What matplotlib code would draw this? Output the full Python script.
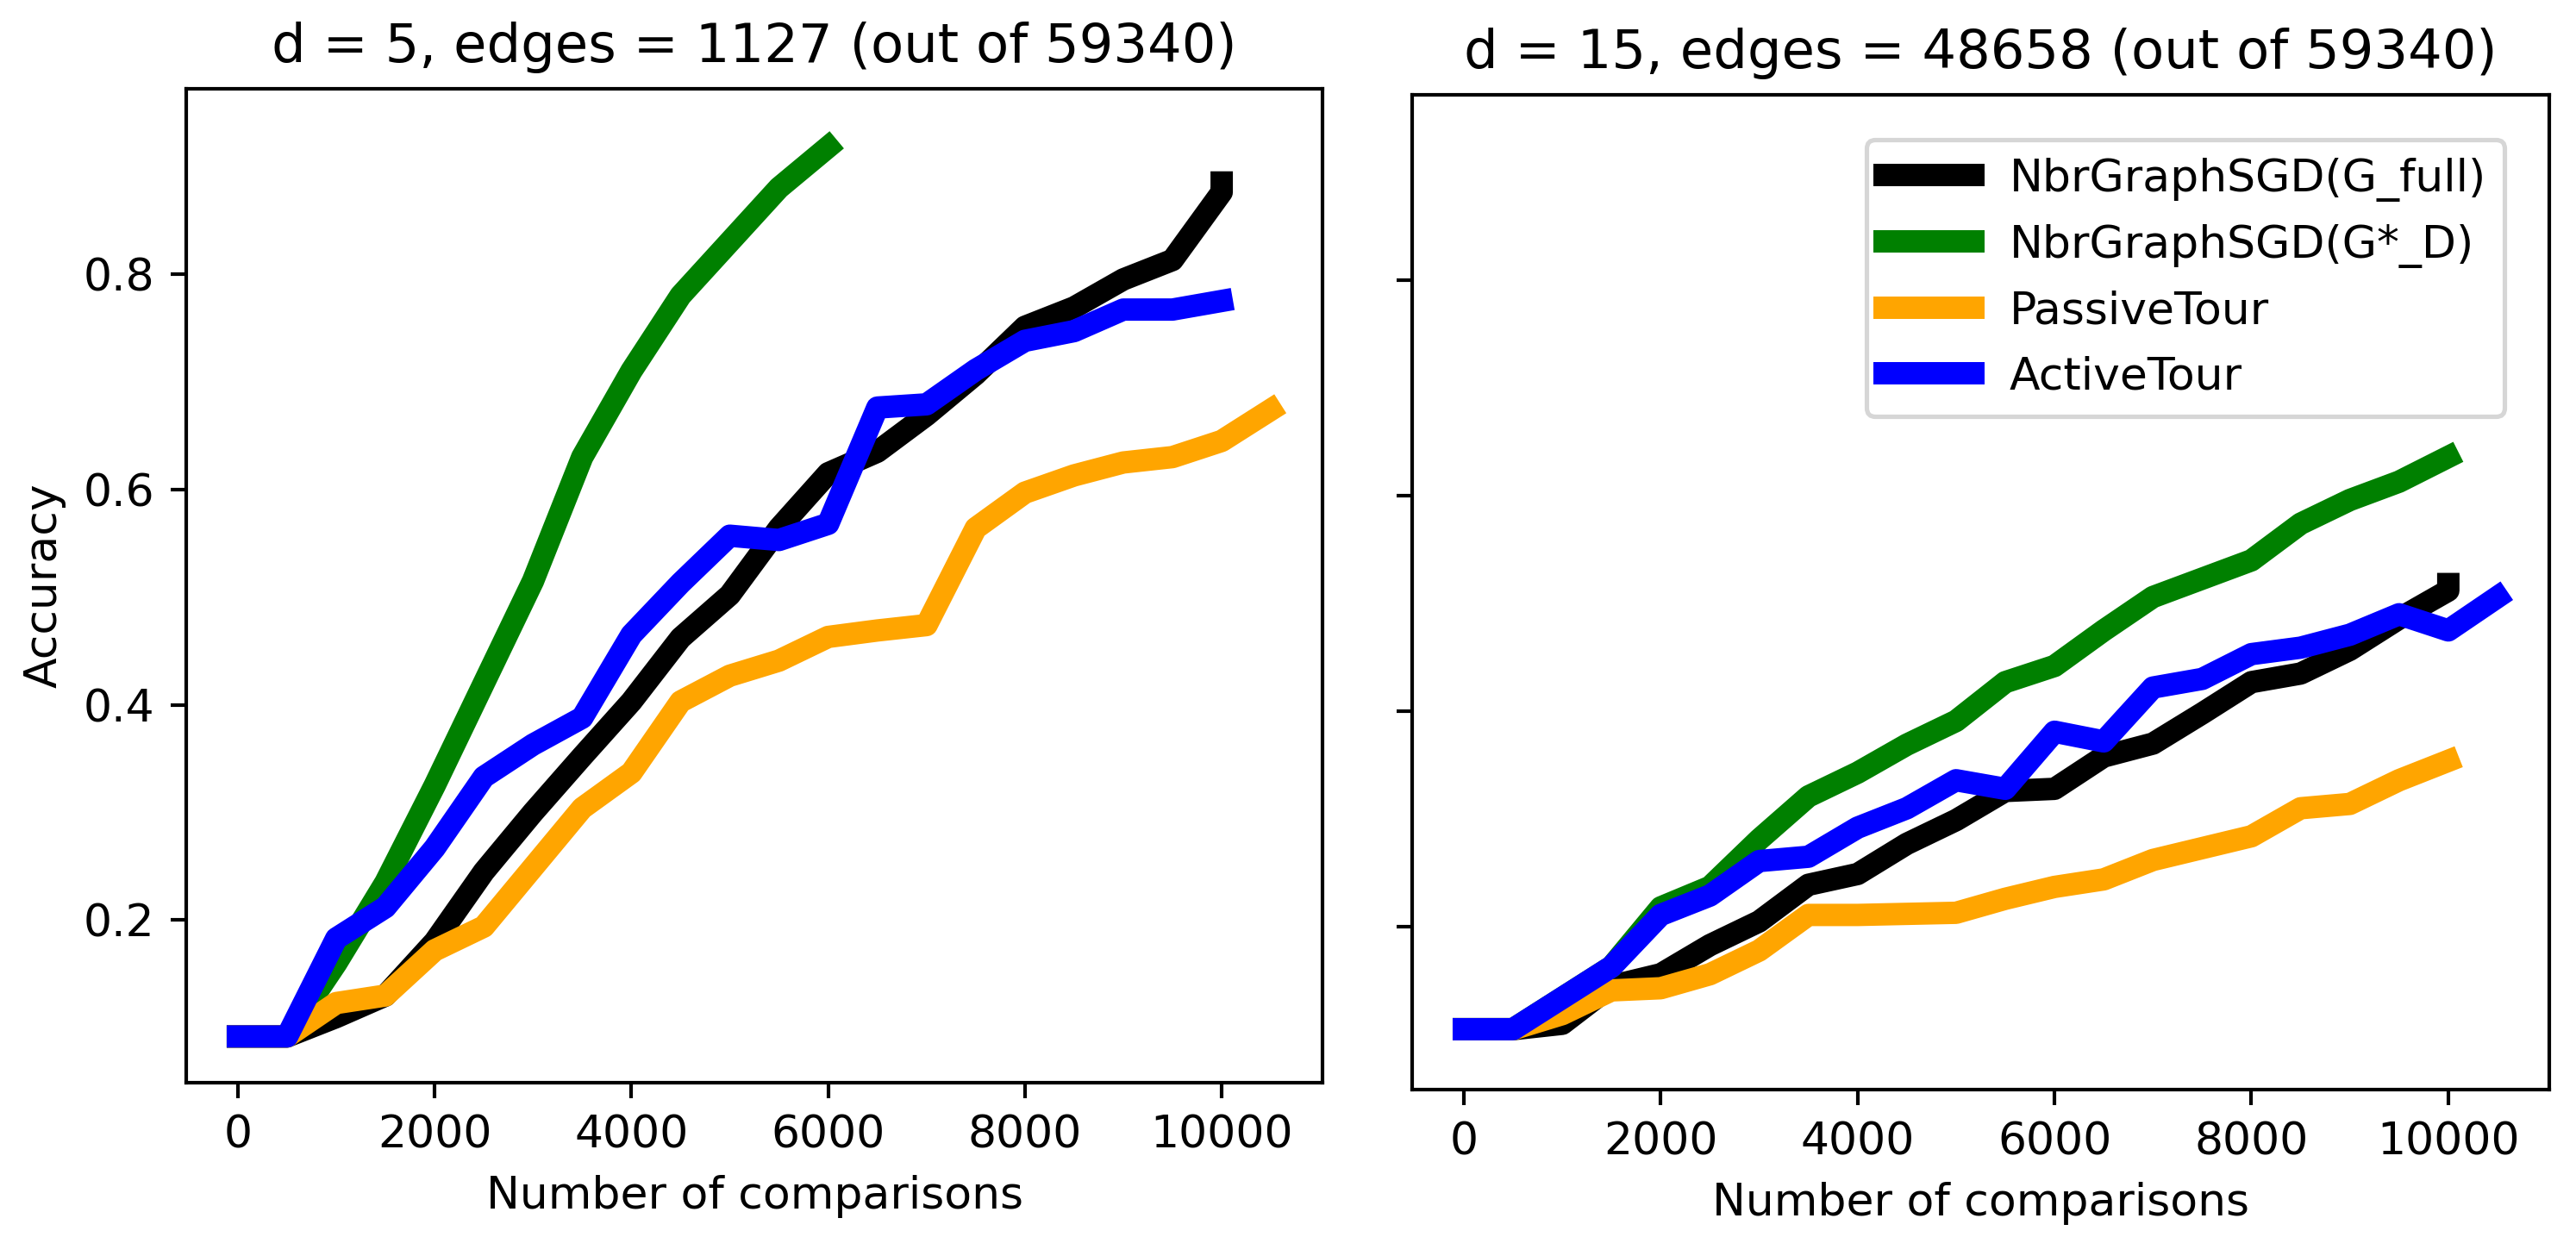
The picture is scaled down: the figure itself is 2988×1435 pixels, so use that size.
import matplotlib
matplotlib.use("Agg")
from matplotlib import pyplot


# number of comparisons
steps = [0, 500, 1000, 1500, 2000, 2500, 3000, 3500, 4000, 4500, 5000,
         5500, 6000, 6500, 7000, 7500, 8000, 8500, 9000, 9500, 10000, 10500]

# d = 5 panel
full_d5_x = steps[:21] + [10000]
full_d5 = [0.092, 0.092, 0.110, 0.130, 0.180, 0.245, 0.300, 0.352, 0.403, 0.462, 0.502,
           0.564, 0.615, 0.635, 0.669, 0.707, 0.751, 0.769, 0.795, 0.813, 0.876, 0.885]
star_d5 = [0.092, 0.092, 0.160, 0.235, 0.325, 0.420, 0.515, 0.630, 0.710, 0.780, 0.830,
           0.880, 0.918]
passive_d5 = [0.092, 0.092, 0.123, 0.130, 0.172, 0.194, 0.249, 0.304, 0.337, 0.403, 0.427,
              0.441, 0.463, 0.469, 0.474, 0.564, 0.597, 0.613, 0.625, 0.630, 0.645, 0.674]
active_d5 = [0.092, 0.092, 0.183, 0.212, 0.267, 0.333, 0.363, 0.388, 0.465, 0.513, 0.557,
             0.553, 0.568, 0.676, 0.679, 0.711, 0.738, 0.747, 0.767, 0.767, 0.775]

# d = 15 panel
full_d15_x = steps[:21] + [10000]
full_d15 = [0.105, 0.105, 0.110, 0.145, 0.156, 0.183, 0.205, 0.239, 0.249, 0.277, 0.299,
            0.326, 0.328, 0.358, 0.370, 0.398, 0.427, 0.435, 0.457, 0.486, 0.512, 0.518]
star_d15 = [0.105, 0.105, 0.134, 0.163, 0.218, 0.237, 0.281, 0.321, 0.343, 0.369, 0.391,
            0.427, 0.442, 0.475, 0.506, 0.523, 0.540, 0.574, 0.596, 0.613, 0.636]
passive_d15 = [0.105, 0.105, 0.119, 0.141, 0.143, 0.156, 0.178, 0.211, 0.211, 0.212, 0.213,
               0.226, 0.237, 0.244, 0.262, 0.273, 0.284, 0.310, 0.314, 0.336, 0.354]
active_d15 = [0.105, 0.105, 0.134, 0.163, 0.211, 0.229, 0.261, 0.265, 0.292, 0.310, 0.336,
              0.328, 0.381, 0.372, 0.422, 0.430, 0.453, 0.459, 0.471, 0.490, 0.475, 0.506]

labels = ['NbrGraphSGD(G_full)', 'NbrGraphSGD(G*_D)', 'PassiveTour', 'ActiveTour']
colors = ['black', 'green', 'orange', 'blue']

fig = pyplot.figure(figsize=(2988 / 374, 1435 / 374), dpi=374)
ax1 = fig.add_axes([0.0723, 0.1247, 0.4411, 0.8035])
ax2 = fig.add_axes([0.5482, 0.1192, 0.4414, 0.8042], sharey=ax1)

ax1.plot(full_d5_x, full_d5, color=colors[0], linewidth=5, label=labels[0])
ax1.plot(steps[:len(star_d5)], star_d5, color=colors[1], linewidth=5, label=labels[1])
ax1.plot(steps[:len(passive_d5)], passive_d5, color=colors[2], linewidth=5, label=labels[2])
ax1.plot(steps[:len(active_d5)], active_d5, color=colors[3], linewidth=5, label=labels[3])

ax2.plot(full_d15_x, full_d15, color=colors[0], linewidth=5, label=labels[0])
ax2.plot(steps[:len(star_d15)], star_d15, color=colors[1], linewidth=5, label=labels[1])
ax2.plot(steps[:len(passive_d15)], passive_d15, color=colors[2], linewidth=5, label=labels[2])
ax2.plot(steps[:len(active_d15)], active_d15, color=colors[3], linewidth=5, label=labels[3])

for ax in (ax1, ax2):
    ax.set_xticks([0, 2000, 4000, 6000, 8000, 10000])
    ax.set_xlabel('Number of comparisons')
ax1.set_yticks([0.2, 0.4, 0.6, 0.8])
ax1.set_ylim(0.049, 0.972)
ax1.set_ylabel('Accuracy')
ax2.tick_params(axis='y', labelleft=False)

ax1.set_title('d = 5, edges = 1127 (out of 59340)')
ax2.set_title('d = 15, edges = 48658 (out of 59340)')
ax2.legend(loc='upper right', borderaxespad=1.0)

fig.savefig('out.png', dpi=374)
pyplot.close(fig)
